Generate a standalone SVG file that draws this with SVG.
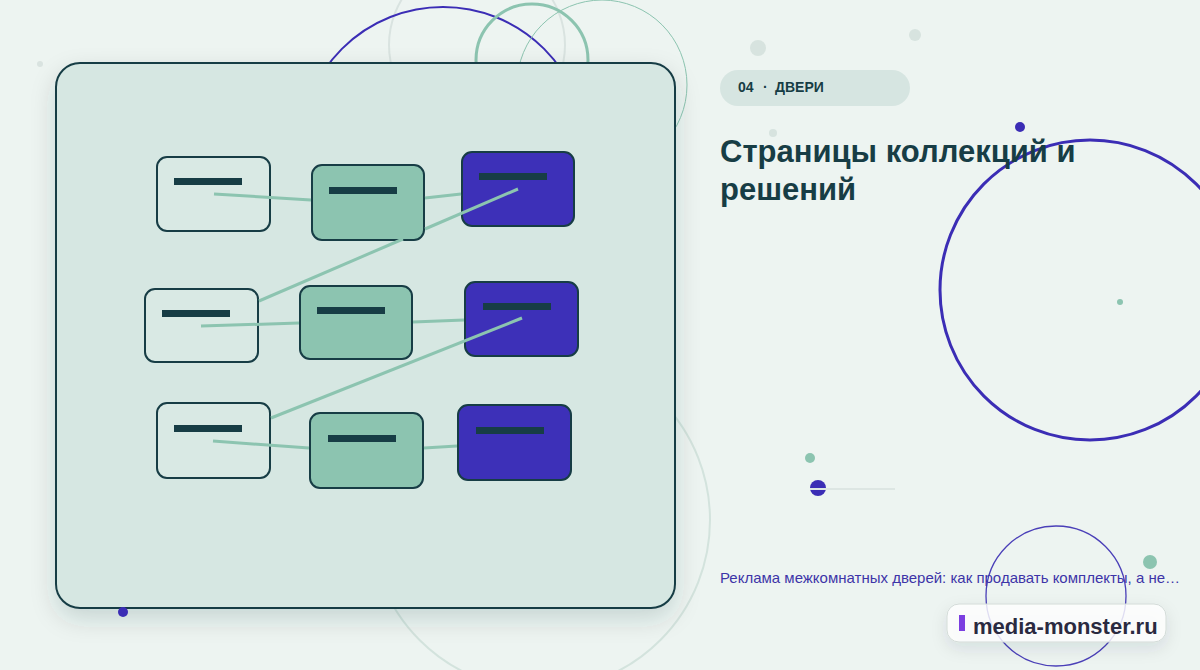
<svg xmlns="http://www.w3.org/2000/svg" width="1200" height="670" viewBox="0 0 1200 670">
<defs>
<filter id="sh" x="-20%" y="-20%" width="140%" height="150%">
<feDropShadow dx="0" dy="10" stdDeviation="12" flood-color="#1b3d40" flood-opacity="0.16"/>
</filter>
<filter id="sh2" x="-20%" y="-40%" width="140%" height="200%">
<feDropShadow dx="0" dy="6" stdDeviation="8" flood-color="#1b3d40" flood-opacity="0.12"/>
</filter>
<style>
.light{fill:#d9e9e4;stroke:#173d45;stroke-width:2}
.mid{fill:#8cc4b0;stroke:#173d45;stroke-width:2}
.dark{fill:#3d30b8;stroke:#173d45;stroke-width:2}
.bar{fill:#173d45}
.conn{stroke:#8cc4b0;stroke-width:3;fill:none;stroke-linecap:butt}
.t{font-family:"Liberation Sans",Arial,sans-serif}
</style>
</defs>
<rect width="1200" height="670" fill="#edf4f1"/>
<g id="decor-back" fill="none">
<circle cx="540" cy="520" r="170" stroke="#d3e3dd" stroke-width="2"/>
<circle cx="477" cy="45" r="88" stroke="#d9e3e0" stroke-width="2"/>
<circle cx="443" cy="150" r="143" stroke="#3b2db5" stroke-width="2"/>
<circle cx="532" cy="60" r="56" stroke="#8cc4b0" stroke-width="3"/>
<circle cx="602" cy="85" r="85" stroke="#8cc4b0" stroke-width="1"/>
<circle cx="40" cy="64" r="3" fill="#d9e3e0"/>
</g>
<g id="panel">
<rect x="56" y="63" width="619" height="545" rx="24" fill="#d6e7e2" stroke="#173d45" stroke-width="2" filter="url(#sh)"/>
</g>
<g id="n1"><rect class="light" x="157" y="157" width="113" height="74" rx="10"/><rect class="bar" x="174" y="178" width="68" height="7"/></g>
<g id="n2"><rect class="mid" x="312" y="165" width="112" height="75" rx="10"/><rect class="bar" x="329" y="187" width="68" height="7"/></g>
<g id="n3"><rect class="dark" x="462" y="152" width="112" height="74" rx="10"/><rect class="bar" x="479" y="173" width="68" height="7"/></g>
<g id="n4"><rect class="light" x="145" y="289" width="113" height="73" rx="10"/><rect class="bar" x="162" y="310" width="68" height="7"/></g>
<g id="n5"><rect class="mid" x="300" y="286" width="112" height="73" rx="10"/><rect class="bar" x="317" y="307" width="68" height="7"/></g>
<g id="n6"><rect class="dark" x="465" y="282" width="113" height="74" rx="10"/><rect class="bar" x="483" y="303" width="68" height="7"/></g>
<g id="n7"><rect class="light" x="157" y="403" width="113" height="75" rx="10"/><rect class="bar" x="174" y="425" width="68" height="7"/></g>
<g id="n8"><rect class="mid" x="310" y="413" width="113" height="75" rx="10"/><rect class="bar" x="328" y="435" width="68" height="7"/></g>
<g id="n9"><rect class="dark" x="458" y="405" width="113" height="75" rx="10"/><rect class="bar" x="476" y="427" width="68" height="7"/></g>
<g id="connectors" class="conn">
<line class="conn" x1="214" y1="194" x2="311" y2="200"/>
<line class="conn" x1="425" y1="198" x2="461" y2="194"/>
<line class="conn" x1="518" y1="189" x2="425" y2="229"/>
<line class="conn" x1="403" y1="239" x2="259" y2="301"/>
<line class="conn" x1="201" y1="326" x2="299" y2="323"/>
<line class="conn" x1="413" y1="322" x2="464" y2="320"/>
<line class="conn" x1="522" y1="318" x2="271" y2="418"/>
<line class="conn" x1="213" y1="441" x2="309" y2="448"/>
<line class="conn" x1="424" y1="448" x2="457" y2="446"/>
</g>
<g id="decor-right">
<circle cx="758" cy="48" r="8" fill="#d7e3df"/>
<circle cx="915" cy="35" r="6" fill="#d7e3df"/>
<circle cx="773" cy="133" r="4" fill="#d7e3df"/>
<circle cx="1020" cy="127" r="5" fill="#3b2db5"/>
<circle cx="1090" cy="290" r="150" fill="none" stroke="#3b2db5" stroke-width="3"/>
<circle cx="1120" cy="302" r="3" fill="#8cc4b0"/>
<circle cx="810" cy="458" r="5" fill="#8cc4b0"/>
<circle cx="818" cy="488" r="8" fill="#3b2db5"/>
<line x1="810" y1="489" x2="895" y2="489" stroke="#dde6e3" stroke-width="2"/>
<circle cx="1150" cy="562" r="7" fill="#8cc4b0"/>
<circle cx="123" cy="612" r="5" fill="#3b2db5"/>
</g>
<g id="tag">
<rect x="720" y="70" width="190" height="36" rx="18" fill="#d6e5e1"/>
<text class="t" x="738" y="92" font-size="14" font-weight="bold" fill="#173d45">04<tspan x="763">·</tspan><tspan x="775">ДВЕРИ</tspan></text>
</g>
<g id="title">
<text class="t" font-size="31" font-weight="bold" fill="#173d45"><tspan x="720" y="162">Страницы коллекций и</tspan><tspan x="720" y="200">решений</tspan></text>
</g>
<g id="brand-circle">
<circle cx="1056" cy="596" r="70" fill="none" stroke="#4a3fb8" stroke-width="1.3"/>
</g>
<g id="subtitle">
<text class="t" x="720" y="583" font-size="15" fill="#3d34a8">Реклама межкомнатных дверей: как продавать комплекты, а не…</text>
</g>
<g id="brand">
<rect x="947" y="604" width="219" height="38" rx="12" fill="#ffffff" fill-opacity="0.82" stroke="#d3dbd8" stroke-width="1" filter="url(#sh2)"/>
<rect x="959" y="615" width="6" height="16" fill="#7b3fe0"/>
<text class="t" x="973" y="634" font-size="22" font-weight="bold" fill="#2a2a40">media-monster.ru</text>
</g>
</svg>
